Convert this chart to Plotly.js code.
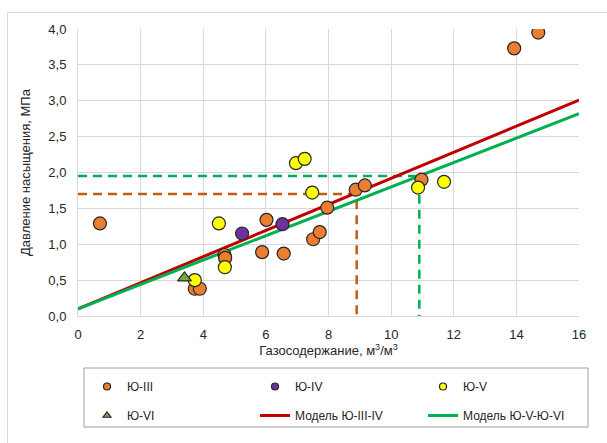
<!DOCTYPE html>
<html>
<head>
<meta charset="utf-8">
<script src="https://cdn.plot.ly/plotly-3.0.1.min.js"></script>
<style>html,body{margin:0;padding:0;background:#fff;}#chart{width:607px;height:443px;}</style>
</head>
<body>
<div id="chart"></div>
<script>
// Ю-III
const x3 = [0.7, 3.73, 3.89, 4.68, 4.7, 5.88, 6.02, 6.57, 7.51, 7.72, 7.96, 8.87, 9.16, 10.97, 13.93, 14.7];
const y3 = [1.29, 0.38, 0.38, 0.85, 0.81, 0.89, 1.34, 0.87, 1.07, 1.17, 1.51, 1.76, 1.82, 1.90, 3.73, 3.95];
// Ю-IV
const x4 = [5.24, 6.53];
const y4 = [1.15, 1.28];
// Ю-V
const x5 = [3.73, 4.5, 4.69, 6.96, 7.24, 7.48, 10.86, 11.69];
const y5 = [0.50, 1.29, 0.68, 2.13, 2.19, 1.72, 1.79, 1.87];
// Ю-VI
const x6 = [3.4];
const y6 = [0.53];
// models
const modelX = [0, 16];
const modelIIIIV = [0.1, 3.01];
const modelVVI = [0.1, 2.82];
// reading guides
const guideIIIx = [0, 8.9, 8.9];
const guideIIIy = [1.7, 1.7, 0];
const guideVx = [0, 10.9, 10.9];
const guideVy = [1.95, 1.95, 0];

const names = ['Ю-III', 'Ю-IV', 'Ю-V', 'Ю-VI', 'Модель Ю-III-IV', 'Модель Ю-V-Ю-VI'];
const colors = {o: '#ed7d31', p: '#7030a0', y: '#ffff00', g: '#70ad47', red: '#c00000', green: '#00b050', dashO: '#c55a11'};
const outline = {color: '#262626', width: 1.2};

const traces = [
  {x: guideIIIx, y: guideIIIy, mode: 'lines', line: {color: colors.dashO, width: 2.5, dash: '9px,6px'}, showlegend: false, hoverinfo: 'skip'},
  {x: guideVx, y: guideVy, mode: 'lines', line: {color: colors.green, width: 2.5, dash: '9px,6px'}, showlegend: false, hoverinfo: 'skip'},
  {x: modelX, y: modelIIIIV, mode: 'lines', line: {color: colors.red, width: 3}, showlegend: false},
  {x: modelX, y: modelVVI, mode: 'lines', line: {color: colors.green, width: 3}, showlegend: false},
  {x: x3, y: y3, mode: 'markers', marker: {color: colors.o, size: 13, line: outline}, showlegend: false},
  {x: x4, y: y4, mode: 'markers', marker: {color: colors.p, size: 13, line: outline}, showlegend: false},
  {x: x5, y: y5, mode: 'markers', marker: {color: colors.y, size: 13, line: outline}, showlegend: false},
  {x: x6, y: y6, mode: 'markers', marker: {color: colors.g, size: 12, symbol: 'triangle-up', line: outline}, showlegend: false},
  // legend entries
  {x: [null], y: [null], name: names[0], mode: 'markers', marker: {color: colors.o, size: 7, line: outline}, legend: 'legend', legendgroup: 'a'},
  {x: [null], y: [null], name: names[3], mode: 'markers', marker: {color: colors.g, size: 7, symbol: 'triangle-up', line: outline}, legend: 'legend', legendgroup: 'b'},
  {x: [null], y: [null], name: names[1], mode: 'markers', marker: {color: colors.p, size: 7, line: outline}, legend: 'legend2', legendgroup: 'c'},
  {x: [null], y: [null], name: names[4], mode: 'lines', line: {color: colors.red, width: 3}, legend: 'legend2', legendgroup: 'd'},
  {x: [null], y: [null], name: names[2], mode: 'markers', marker: {color: colors.y, size: 7, line: outline}, legend: 'legend3', legendgroup: 'e'},
  {x: [null], y: [null], name: names[5], mode: 'lines', line: {color: colors.green, width: 3}, legend: 'legend3', legendgroup: 'f'}
];

const W = 501, H = 287, L = 78, T = 29;
const px = v => (v - L) / W;
const py = v => (T + H - v) / H;
const legBase = {orientation: 'v', xanchor: 'left', yanchor: 'top', bgcolor: 'rgba(0,0,0,0)', borderwidth: 0,
  tracegroupgap: 10, font: {family: 'Liberation Sans, Arial, sans-serif', size: 12, color: '#262626'}, traceorder: 'grouped'};

const layout = {
  width: 607, height: 443,
  margin: {l: L, r: 607 - L - W, t: T, b: 443 - T - H},
  paper_bgcolor: '#ffffff', plot_bgcolor: '#ffffff',
  separators: ',.',
  font: {family: 'Liberation Sans, Arial, sans-serif', size: 12, color: '#262626'},
  xaxis: {range: [0, 16], dtick: 2, tick0: 0, showgrid: true, gridcolor: '#d9d9d9', gridwidth: 1,
    zeroline: false, showline: true, linecolor: '#d9d9d9', linewidth: 1, mirror: false, ticks: '',
    ticklabelstandoff: 6, tickfont: {size: 13},
    title: {text: 'Газосодержание, м<sup>3</sup>/м<sup>3</sup>', font: {size: 13}, standoff: 4}},
  yaxis: {range: [0, 4], dtick: 0.5, tick0: 0, tickformat: '.1f', showgrid: true, gridcolor: '#d9d9d9', gridwidth: 1,
    zeroline: false, showline: true, linecolor: '#d9d9d9', linewidth: 1, ticks: '',
    ticklabelstandoff: 8, tickfont: {size: 13}, automargin: true,
    title: {text: 'Давление насыщения, МПа', font: {size: 13}, standoff: 14}},
  showlegend: true,
  legend: Object.assign({}, legBase, {x: px(87), y: py(372)}),
  legend2: Object.assign({}, legBase, {x: px(255), y: py(372)}),
  legend3: Object.assign({}, legBase, {x: px(423), y: py(372)}),
  shapes: [
    {type: 'rect', xref: 'paper', yref: 'paper', x0: px(84), x1: px(588), y0: py(427), y1: py(368),
      line: {color: '#a0a0a0', width: 1}, fillcolor: 'rgba(0,0,0,0)', layer: 'above'},
    {type: 'rect', xref: 'paper', yref: 'paper', x0: px(7.5), x1: px(640), y0: py(480), y1: py(12.5),
      line: {color: '#d9d9d9', width: 1}, fillcolor: 'rgba(0,0,0,0)', layer: 'below'}
  ],
  hovermode: false
};

Plotly.newPlot('chart', traces, layout, {displayModeBar: false, staticPlot: true});
</script>
</body>
</html>
